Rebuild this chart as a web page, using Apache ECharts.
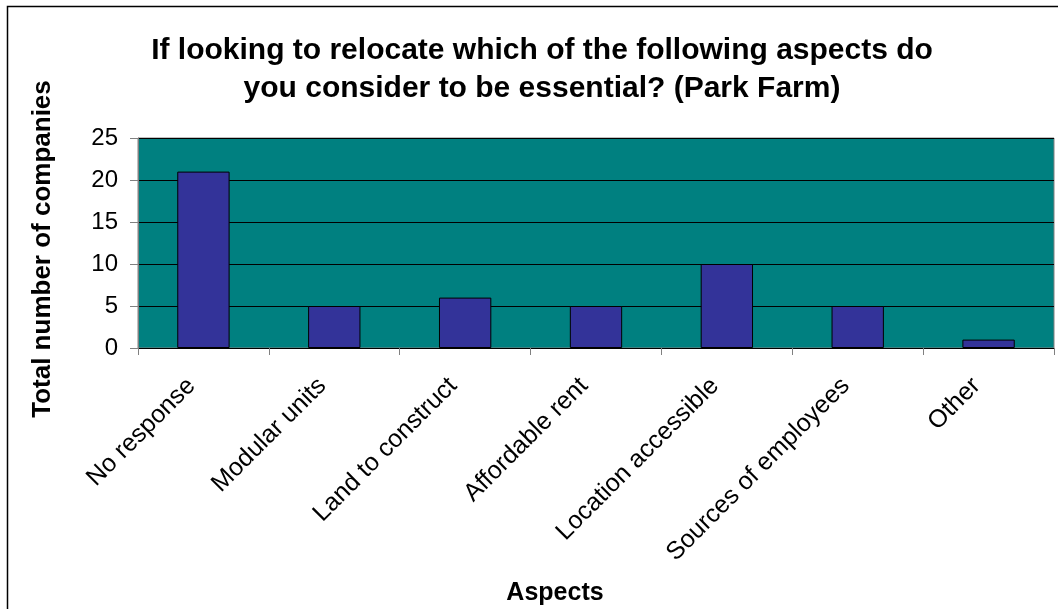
<!DOCTYPE html>
<html>
<head>
<meta charset="utf-8">
<script src="https://cdn.jsdelivr.net/npm/echarts@6/dist/echarts.min.js"></script>
<style>html,body{margin:0;padding:0;background:#fff}#c{width:1058px;height:609px}</style>
</head>
<body>
<div id="c"></div>
<script>
const categories = ["No response", "Modular units", "Land to construct", "Affordable rent", "Location accessible", "Sources of employees", "Other"];
const values = [21, 5, 6, 5, 10, 5, 1];
const yTicks = [0, 5, 10, 15, 20, 25];
const titleText = "If looking to relocate which of the following aspects do\nyou consider to be essential? (Park Farm)";
const yName = "Total number of companies";
const xName = "Aspects";

const chart = echarts.init(document.getElementById('c'), null, {renderer: 'canvas'});
const font = "'Liberation Sans', Arial, sans-serif";
chart.setOption({
  animation: false,
  backgroundColor: '#fff',
  graphic: [{
    type: 'rect', shape: {x: 7.5, y: 6.5, width: 1060, height: 620},
    style: {fill: 'none', stroke: '#000', lineWidth: 1.5}, z: -1
  }],
  title: [{
    text: titleText, left: 537, top: 27, textAlign: 'center',
    textStyle: {fontFamily: font, fontSize: 30, fontWeight: 'bold', color: '#000', lineHeight: 38}
  }, {
    text: xName, left: 550, top: 576, textAlign: 'center',
    textStyle: {fontFamily: font, fontSize: 25, fontWeight: 'bold', color: '#000'}
  }],
  grid: {left: 138, top: 138, right: 4, bottom: 261, show: true, backgroundColor: '#008080', borderColor: '#808080', borderWidth: 1},
  xAxis: {
    type: 'category', data: categories,
    axisLine: {lineStyle: {color: '#000', width: 1}},
    axisTick: {show: true, alignWithLabel: false, length: 7, lineStyle: {color: '#808080'}},
    axisLabel: {rotate: 45, fontFamily: font, fontSize: 25, color: '#000', margin: 22, padding: [0, 17, 0, 0], interval: 0}
  },
  yAxis: {
    type: 'value', min: 0, max: 25, interval: 5,
    name: yName, nameLocation: 'middle', nameGap: 82, nameRotate: 90,
    nameTextStyle: {fontFamily: font, fontSize: 26, fontWeight: 'bold', color: '#000', padding: [0, 12, 0, 0]},
    axisLine: {show: true, lineStyle: {color: '#808080'}},
    axisTick: {show: true, length: 8, lineStyle: {color: '#808080'}},
    axisLabel: {fontFamily: font, fontSize: 24, color: '#000', margin: 20,
      formatter: v => yTicks.includes(v) ? String(v) : ''},
    splitLine: {show: true, lineStyle: {color: '#000', width: 1}}
  },
  series: [{
    type: 'bar', data: values, barCategoryGap: '60%',
    itemStyle: {color: '#333399', borderColor: '#000', borderWidth: 1}
  }]
});
</script>
</body>
</html>
